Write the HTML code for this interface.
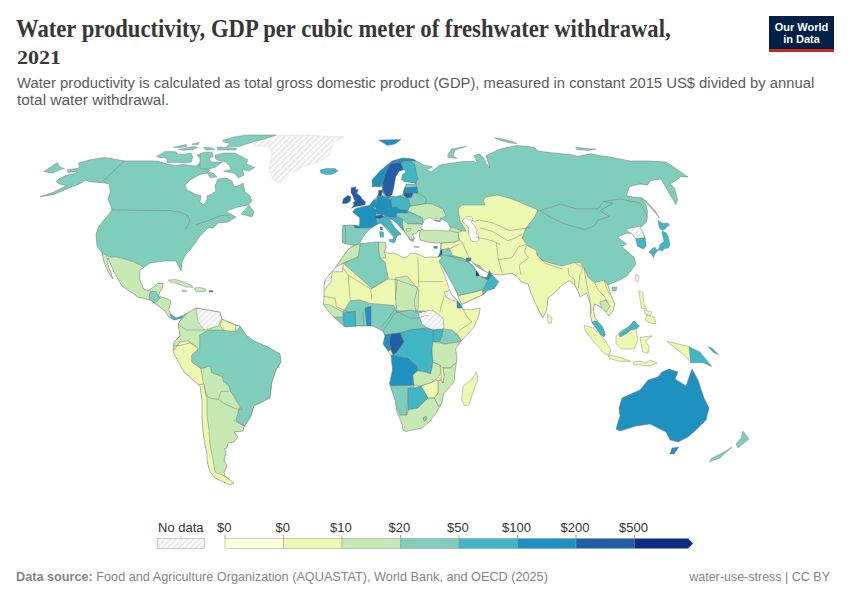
<!DOCTYPE html>
<html><head><meta charset="utf-8">
<style>
html,body{margin:0;padding:0;background:#fff;}
body{width:850px;height:600px;position:relative;overflow:hidden;font-family:"Liberation Sans",sans-serif;}
.t{position:absolute;white-space:nowrap;}
#title{left:16px;top:15px;font-family:"Liberation Serif",serif;font-weight:bold;font-size:24.5px;color:#373737;line-height:28px;}
#sub{left:17px;top:75px;font-size:14px;color:#5b5b5b;line-height:17px;}
#sub2{left:17px;top:92px;font-size:14px;color:#5b5b5b;line-height:17px;}
#title2{left:17px;top:46px;transform:scaleX(1.22);transform-origin:0 0;font-family:"Liberation Serif",serif;font-weight:bold;font-size:18px;color:#373737;line-height:24px;}
#logo{position:absolute;left:769px;top:16px;width:65px;height:33px;background:#002147;border-bottom:3px solid #ce261e;}
#logo div{position:absolute;left:0;width:65px;text-align:center;color:#fff;font-weight:bold;font-size:11px;line-height:12px;}
.lab{position:absolute;font-size:13px;color:#333;white-space:nowrap;}
#foot{left:16px;top:569.5px;font-size:12.5px;color:#858585;transform:scaleX(1.014);transform-origin:0 0;}
#foot2{right:20px;top:569.5px;font-size:12.5px;color:#858585;}
</style></head><body>
<svg width="850" height="600" viewBox="0 0 850 600" style="position:absolute;left:0;top:0">
<defs><pattern id="hatch" patternUnits="userSpaceOnUse" width="4" height="4" patternTransform="rotate(45)"><rect width="4" height="4" fill="#fff"/><line x1="2" y1="0" x2="2" y2="4" stroke="#e2e2e2" stroke-width="1.5"/></pattern>
<clipPath id="cl_am"><polygon points="40.3,196.8 52.6,192.6 66.8,185.6 58.5,183.8 56.2,181.5 58.5,179.1 65.6,175.6 76.2,173.2 76.8,171.5 68,172.6 67.4,169.7 77.4,168.5 79.7,166.8 78.5,163.2 90.3,159.7 104.4,157.4 124.4,160.9 150,160.9 158.2,161.3 166.5,163.8 174.7,165.4 183,164.6 191.2,165.4 196.1,166.2 199.4,163 204.4,160.5 207.7,157.2 209.3,161.3 211.8,165.4 206,168 210,170 207,173 200,174.5 190,180 185,185 187,190 195,194 201,196 200,202 203,205 207,200 207,196 210,195 216,191 215,186 218,179 226,178 232,181 234,187 240,185 243,183 245,192 250,196 252,201 248,205 238,207 226,211 230,214 236,217 228,222 218,223 213,228 208,228 200,236 196,242 190,250 186,254 182,262 181,271 178,265 176,261 164,261 150,263 140,270 139.7,279.4 143.5,288.8 148.2,290.7 153.8,287 157.6,283.6 163.2,283.2 162.3,287.9 159.5,292.6 158.5,296.4 163.2,297.3 169.8,300.1 170.8,301 168.9,310.5 170.8,314.2 176,318 182,316 196,308 208,310 220,312 222,319 236,325 240,326 246,335 254,341 268,347 280,354 281,362 276,370 272,382 270,398 266,400 254,406 251,416 244,427 243,431 234,432 238,437 234,442 228,443 227,448 224,449 226,452 224,460 227,466 224,472 225,476 234,483 230,485 215,478 210,472 207,461 207,454 204,440 203,430 202,415 202,400 200,386 184,372 173,352 174,342 180,336 178,324 182,318 174,320 168,316 164,310 150,300 138,297 122,286 114,272 108,258 107,262 110,270 113,279 108,272 104,262 102,253 97,246 96,234 99,226 110,213 112,209 108,199 110.3,192 109,183.8 101.5,182.6 91.5,182 85.6,180.3 78.5,184.4 70.3,187.4 53.8,194.4"/></clipPath>
<clipPath id="cl_eu"><polygon points="355,245 351.3,245.2 342.8,243 342,237.5 342.8,225.5 352,225 359.8,226 359.8,217.7 352.7,212 355,209 360.5,207 369.5,205.5 374,199.5 378.5,195 378.5,190.5 383,190 381.5,195 386,196.5 395,196.5 404,195 402.6,194.7 403.8,190 406.2,184.1 415.6,184.1 415.6,183 405,181.8 401.5,179.4 402.6,174.7 406.2,171.2 403.8,169.4 399.1,171.2 395.6,177 394.4,184.1 393.2,190 392,194.7 387.4,197 383.8,194.7 382.6,188.8 381.5,186.5 374.4,186.5 372.5,187 372,180 380,171 392,161 402.5,158 413,159 423.5,165 432.5,167 426.5,169.5 431,172 440,165.1 451.3,163.2 464.5,161.4 473.9,161.4 477.6,163.2 473.9,155.7 479.5,153.8 483.3,157.6 486.1,163.2 489.9,168 486.1,155.7 491.8,152.9 500.2,149.1 517.2,145.4 534.1,147.2 537.9,151 552.9,152.9 571.8,154.8 577.4,156.6 590.6,153.8 600,155.7 610,157 630,161 648,161 666,162 678,170 688,177 680.5,176.7 676,180.5 670,184 674.5,188 677.5,200 676,204.5 667,189.5 661,179 650.5,180.5 647.5,185 640,184 629.5,186.5 626.5,195.5 632.5,197 641.5,197.7 646,204.5 647.5,212 646,222.5 640.4,227.8 645,237 646,246.2 643.2,249 637.7,246.2 635.8,238.8 631.3,233.3 626.7,233.3 617.5,237 626.7,244.3 621.2,246.2 634,257.2 636,264 633,268 626.7,276 620,280 613,282.7 608,285.3 610.7,294.7 614.7,304 613,310.7 609,316 606.7,313 602.7,309 600,306.7 594.7,304 593.3,308 594.7,317.3 598.7,322.7 602.7,326.7 605.3,334.7 604,336.7 600.7,334.7 596,328 592,322.7 590.7,316 590.7,305.3 586.7,293 580,297 578.7,293 574.7,285 569.3,280.7 562.7,284.7 556,291.3 548,298 546.7,310 542.7,318 540,312.7 534.7,302 530.7,292.7 528,284 521.3,282 517.3,276.7 512,273.3 500,275 490.7,273.7 484,271 477.3,267 470.7,260.3 468,261.7 473.3,265.7 477.3,272.3 480,276.3 486.7,277.7 489.3,271 492,275 498.7,281.7 494.7,288.3 486.7,291 482.7,295 473.3,299 462.7,304.3 461.3,304.3 457.3,293.7 452,283 446.7,273.7 441.3,264.3 437.3,257.7 440,253.2 440.9,244.8 440,242.9 435.2,242.9 427.7,242 420.2,240 419.2,235.4 420.2,230.6 418.3,230.6 416.4,233.5 412.6,234.4 414.5,239 412.6,242 410,240 406,233.5 401.4,228.8 398.5,225 393,220 389.4,218.4 394.8,227.8 401.4,234.4 397.6,235.4 395.7,239 394.8,242.4 392.9,236.3 384.4,226.9 381,223 378,224 375.3,225.5 368.2,230.4 362.6,237.5 359.8,243"/></clipPath>
<clipPath id="cl_af"><polygon points="352.7,246 359.8,243.8 372.5,242.4 375,242 380.6,242 385.4,242.4 386.3,247.6 384.4,251.4 388.2,253.2 393.8,253.2 398.5,255.1 403.2,257.5 407,257 410.8,253.2 415.5,253.2 420.2,255.1 424.9,257.5 431.5,257 439,257 441,256 442,258 439,261 446.3,280 449.8,290.5 452.2,295.2 456.8,299.8 461.5,305.7 462.7,309.2 470.8,309.8 480.2,308 479,315 474.3,326.7 467.3,334.8 461.5,340.7 455.7,348.8 457,358 455.5,368.5 454,382 443.5,394 442,403 436,413 430,421 422,428 415,429.5 406,431.5 403,430 402,424 397,412 395,400 394,397 389.5,383.5 392.5,370 391,355 383,344 385,336 383,331 373,326 357,326 345,327 335,318 329,312 323,304 324,300 324,286 325,280 335,268 341.4,258.6 348.5,248.8"/></clipPath>
<clipPath id="cl_au"><polygon points="669,369 678,372 675,379 686,386 692,369 698,380 704,398 709,408 706,420 698,428 688,437 678,442 670,440 666,432 660,429 650,424 636,426 620,431 616,429 620,416 619,408 622,398 640,390 648,380 658,377 662,372"/></clipPath>
<clipPath id="cl_gl"><polygon points="254,143 273.5,136 299,135 344,137 333.5,141.5 329,155 320,161 302,167 290,174.5 281,183 273.5,180.5 269,170 272,153.5 267.5,146 254,146"/></clipPath>
</defs>
<polygon points="40.3,196.8 52.6,192.6 66.8,185.6 58.5,183.8 56.2,181.5 58.5,179.1 65.6,175.6 76.2,173.2 76.8,171.5 68,172.6 67.4,169.7 77.4,168.5 79.7,166.8 78.5,163.2 90.3,159.7 104.4,157.4 124.4,160.9 150,160.9 158.2,161.3 166.5,163.8 174.7,165.4 183,164.6 191.2,165.4 196.1,166.2 199.4,163 204.4,160.5 207.7,157.2 209.3,161.3 211.8,165.4 206,168 210,170 207,173 200,174.5 190,180 185,185 187,190 195,194 201,196 200,202 203,205 207,200 207,196 210,195 216,191 215,186 218,179 226,178 232,181 234,187 240,185 243,183 245,192 250,196 252,201 248,205 238,207 226,211 230,214 236,217 228,222 218,223 213,228 208,228 200,236 196,242 190,250 186,254 182,262 181,271 178,265 176,261 164,261 150,263 140,270 139.7,279.4 143.5,288.8 148.2,290.7 153.8,287 157.6,283.6 163.2,283.2 162.3,287.9 159.5,292.6 158.5,296.4 163.2,297.3 169.8,300.1 170.8,301 168.9,310.5 170.8,314.2 176,318 182,316 196,308 208,310 220,312 222,319 236,325 240,326 246,335 254,341 268,347 280,354 281,362 276,370 272,382 270,398 266,400 254,406 251,416 244,427 243,431 234,432 238,437 234,442 228,443 227,448 224,449 226,452 224,460 227,466 224,472 225,476 234,483 230,485 215,478 210,472 207,461 207,454 204,440 203,430 202,415 202,400 200,386 184,372 173,352 174,342 180,336 178,324 182,318 174,320 168,316 164,310 150,300 138,297 122,286 114,272 108,258 107,262 110,270 113,279 108,272 104,262 102,253 97,246 96,234 99,226 110,213 112,209 108,199 110.3,192 109,183.8 101.5,182.6 91.5,182 85.6,180.3 78.5,184.4 70.3,187.4 53.8,194.4" fill="#7fcdbb" stroke="none" stroke-width="0" />
<g clip-path="url(#cl_am)">
<polygon points="102,253 110,257 118,257 134,262 142,266 150,272 160,278 172,298 174,314 176,318 170,325 150,310 120,290 95,265" fill="#c7e9b4" stroke="#777" stroke-width="0.45" />
<polygon points="150,291.6 156,291.6 158.5,296.4 160.4,298 155,303 149,299" fill="#7fcdbb" stroke="#777" stroke-width="0.45" />
<polygon points="170,314 182,314 184,320 172,320" fill="#41b6c4" stroke="#777" stroke-width="0.45" />
<polygon points="170,330 196,305 300,340 300,500 190,500 170,400" fill="#c7e9b4" stroke="#777" stroke-width="0.45" />
<polygon points="196,308 208,310 220,312 222,319 218,326 205,330 198,322" fill="url(#hatch)" stroke="#777" stroke-width="0.45" />
<polygon points="222,319 236,325 236,332 226,332 220,326" fill="#edf8b1" stroke="#777" stroke-width="0.45" />
<polygon points="236,325 240,326 242,332 236,332" fill="url(#hatch)" stroke="#777" stroke-width="0.45" />
<polygon points="240,326 260,330 290,350 281,362 276,370 272,382 270,398 266,400 254,406 251,416 245.6,426.7 236,420.4 239.2,407.7 242.3,410 237,402 234.3,396.7 230.3,391.3 229,386 223.7,382 222.3,376.7 211.7,372.7 210.3,366 201,368.7 191.7,362 191.7,355.3 199.7,348.7 199.7,335.3 208,330 222,330 236,332" fill="#7fcdbb" stroke="#777" stroke-width="0.45" />
<polygon points="165,352 174.3,350 179.7,342 187.7,340.7 198.3,348.7 191.7,355.3 191.7,362 201,368.7 203.7,386 201,387.3 185,375.3" fill="#edf8b1" stroke="#777" stroke-width="0.45" />
<polygon points="190,386 204,384 207,400 207,415 209,430 210,445 213,460 215,472 224,476 240,483 230,490 200,470 195,400" fill="#edf8b1" stroke="#777" stroke-width="0.45" />
</g>
<polygon points="40.3,196.8 52.6,192.6 66.8,185.6 58.5,183.8 56.2,181.5 58.5,179.1 65.6,175.6 76.2,173.2 76.8,171.5 68,172.6 67.4,169.7 77.4,168.5 79.7,166.8 78.5,163.2 90.3,159.7 104.4,157.4 124.4,160.9 150,160.9 158.2,161.3 166.5,163.8 174.7,165.4 183,164.6 191.2,165.4 196.1,166.2 199.4,163 204.4,160.5 207.7,157.2 209.3,161.3 211.8,165.4 206,168 210,170 207,173 200,174.5 190,180 185,185 187,190 195,194 201,196 200,202 203,205 207,200 207,196 210,195 216,191 215,186 218,179 226,178 232,181 234,187 240,185 243,183 245,192 250,196 252,201 248,205 238,207 226,211 230,214 236,217 228,222 218,223 213,228 208,228 200,236 196,242 190,250 186,254 182,262 181,271 178,265 176,261 164,261 150,263 140,270 139.7,279.4 143.5,288.8 148.2,290.7 153.8,287 157.6,283.6 163.2,283.2 162.3,287.9 159.5,292.6 158.5,296.4 163.2,297.3 169.8,300.1 170.8,301 168.9,310.5 170.8,314.2 176,318 182,316 196,308 208,310 220,312 222,319 236,325 240,326 246,335 254,341 268,347 280,354 281,362 276,370 272,382 270,398 266,400 254,406 251,416 244,427 243,431 234,432 238,437 234,442 228,443 227,448 224,449 226,452 224,460 227,466 224,472 225,476 234,483 230,485 215,478 210,472 207,461 207,454 204,440 203,430 202,415 202,400 200,386 184,372 173,352 174,342 180,336 178,324 182,318 174,320 168,316 164,310 150,300 138,297 122,286 114,272 108,258 107,262 110,270 113,279 108,272 104,262 102,253 97,246 96,234 99,226 110,213 112,209 108,199 110.3,192 109,183.8 101.5,182.6 91.5,182 85.6,180.3 78.5,184.4 70.3,187.4 53.8,194.4" fill="none" stroke="#777" stroke-width="0.5" />
<polygon points="355,245 351.3,245.2 342.8,243 342,237.5 342.8,225.5 352,225 359.8,226 359.8,217.7 352.7,212 355,209 360.5,207 369.5,205.5 374,199.5 378.5,195 378.5,190.5 383,190 381.5,195 386,196.5 395,196.5 404,195 402.6,194.7 403.8,190 406.2,184.1 415.6,184.1 415.6,183 405,181.8 401.5,179.4 402.6,174.7 406.2,171.2 403.8,169.4 399.1,171.2 395.6,177 394.4,184.1 393.2,190 392,194.7 387.4,197 383.8,194.7 382.6,188.8 381.5,186.5 374.4,186.5 372.5,187 372,180 380,171 392,161 402.5,158 413,159 423.5,165 432.5,167 426.5,169.5 431,172 440,165.1 451.3,163.2 464.5,161.4 473.9,161.4 477.6,163.2 473.9,155.7 479.5,153.8 483.3,157.6 486.1,163.2 489.9,168 486.1,155.7 491.8,152.9 500.2,149.1 517.2,145.4 534.1,147.2 537.9,151 552.9,152.9 571.8,154.8 577.4,156.6 590.6,153.8 600,155.7 610,157 630,161 648,161 666,162 678,170 688,177 680.5,176.7 676,180.5 670,184 674.5,188 677.5,200 676,204.5 667,189.5 661,179 650.5,180.5 647.5,185 640,184 629.5,186.5 626.5,195.5 632.5,197 641.5,197.7 646,204.5 647.5,212 646,222.5 640.4,227.8 645,237 646,246.2 643.2,249 637.7,246.2 635.8,238.8 631.3,233.3 626.7,233.3 617.5,237 626.7,244.3 621.2,246.2 634,257.2 636,264 633,268 626.7,276 620,280 613,282.7 608,285.3 610.7,294.7 614.7,304 613,310.7 609,316 606.7,313 602.7,309 600,306.7 594.7,304 593.3,308 594.7,317.3 598.7,322.7 602.7,326.7 605.3,334.7 604,336.7 600.7,334.7 596,328 592,322.7 590.7,316 590.7,305.3 586.7,293 580,297 578.7,293 574.7,285 569.3,280.7 562.7,284.7 556,291.3 548,298 546.7,310 542.7,318 540,312.7 534.7,302 530.7,292.7 528,284 521.3,282 517.3,276.7 512,273.3 500,275 490.7,273.7 484,271 477.3,267 470.7,260.3 468,261.7 473.3,265.7 477.3,272.3 480,276.3 486.7,277.7 489.3,271 492,275 498.7,281.7 494.7,288.3 486.7,291 482.7,295 473.3,299 462.7,304.3 461.3,304.3 457.3,293.7 452,283 446.7,273.7 441.3,264.3 437.3,257.7 440,253.2 440.9,244.8 440,242.9 435.2,242.9 427.7,242 420.2,240 419.2,235.4 420.2,230.6 418.3,230.6 416.4,233.5 412.6,234.4 414.5,239 412.6,242 410,240 406,233.5 401.4,228.8 398.5,225 393,220 389.4,218.4 394.8,227.8 401.4,234.4 397.6,235.4 395.7,239 394.8,242.4 392.9,236.3 384.4,226.9 381,223 378,224 375.3,225.5 368.2,230.4 362.6,237.5 359.8,243" fill="#7fcdbb" stroke="none" stroke-width="0" />
<g clip-path="url(#cl_eu)">
<polygon points="466,231 460,221 458,209 462,205 471,205 485,205 483,200 486,197 498,195 512,199 524,204 538,210 534,218 526,228 522,238 528,246 536,250 537,255 542.7,260.7 561.3,266 572,263.3 580,262 584,268 588,277 594.7,282.7 604,280 608,285.3 625,300 625,345 530,345 500,290 480,266 470,262 462,258 448,254 445,250 441,249 441,244 443,243 455,242 459,240 458,232 449,230" fill="#edf8b1" stroke="#777" stroke-width="0.45" />
<polygon points="455,296 460,295 473.3,292.3 482.7,289.7 486,293 482.7,295 473.3,299 462.7,304.3" fill="#edf8b1" stroke="#777" stroke-width="0.45" />
<polygon points="488,280.3 492,275 498.7,281.7 494.7,288.3 486.7,291 482.7,295 482.7,289.7" fill="#41b6c4" stroke="#777" stroke-width="0.45" />
<polygon points="480,276.3 486.7,277.7 489.3,271 492,275 488,280.3 482,279" fill="#1d91c0" stroke="#777" stroke-width="0.45" />
<polygon points="418,229 425,230 435,229.5 450,229 458,232 459,240 455,242 442,243 435,244 428,243 418,241" fill="#c7e9b4" stroke="#777" stroke-width="0.45" />
<polygon points="447,226 455,228 462,231 458,232.5 449,230.5" fill="#c7e9b4" stroke="#777" stroke-width="0.45" />
<polygon points="441,250 449,248 452,254 447,258 442,258" fill="#7fcdbb" stroke="#777" stroke-width="0.45" />
<polygon points="439,250 442,250 442,259 439,259" fill="#225ea8" stroke="#777" stroke-width="0.45" />
<polygon points="365,180 380,171 392,161 402.5,158 413,157 416,161 404,161 401,162.7 390.5,163.5 384.5,175.5 383,183 378.5,190 368,190" fill="#1d91c0" stroke="#777" stroke-width="0.45" />
<polygon points="384.5,175.5 390.5,163.5 401,162.7 404,169.5 400,172 397,178 396,186 394,196 387.5,198 382,190 383,183" fill="#225ea8" stroke="#777" stroke-width="0.45" />
<polygon points="403,169 401,162.7 408.5,161 414.5,163.5 417,175.5 418,178.5 415.6,183 405,183 400,180 401,172" fill="#41b6c4" stroke="#777" stroke-width="0.45" />
<polygon points="404,184 416,183 417,187 405,188" fill="#7fcdbb" stroke="#777" stroke-width="0.45" />
<polygon points="400,188 417,187 418,193 400,193" fill="#1d91c0" stroke="#777" stroke-width="0.45" />
<polygon points="403.3,193 413.3,193 411.7,197.2 406.7,198 404.2,195.5" fill="#225ea8" stroke="#777" stroke-width="0.45" />
<polygon points="411.7,197.2 413.3,193 420,194 426,198 425.8,203.8 418,205 410,206.3 408.3,198.8" fill="#7fcdbb" stroke="#777" stroke-width="0.45" />
<polygon points="410,206.3 418,205 425.8,203.8 432,204 443,209 446,216 438,220 430,222 422,222 422.5,218 412,213 407.5,210.5" fill="#c7e9b4" stroke="#777" stroke-width="0.45" />
<polygon points="390.8,198 400,196.3 408.3,198.8 410,206.3 407.5,210.5 399.2,209.7 391.7,207.2" fill="#41b6c4" stroke="#777" stroke-width="0.45" />
<polygon points="376.7,200.5 378,194 382,196 387.5,198 390.8,199.7 391.7,207.2 387.5,208 390.8,212.2 388.3,213.8 383.3,214.7 376.7,213.8 375.8,207.2" fill="#1d91c0" stroke="#777" stroke-width="0.45" />
<polygon points="376,190 382.5,189.7 384,193 380.8,196.3 377,196" fill="#225ea8" stroke="#777" stroke-width="0.45" />
<polygon points="366,198 376.7,200.5 375.8,207.2 370,208.8 366,205" fill="#1d91c0" stroke="#777" stroke-width="0.45" />
<polygon points="345,208 360,208 369.2,204.7 376.7,210.5 375.8,215.5 376.7,221.3 377.5,223.8 378,226 368.3,228 355,228" fill="#1d91c0" stroke="#777" stroke-width="0.45" />
<polygon points="375,216.3 381.7,214.7 384.2,217.2 379.2,218.8 375.8,218" fill="#225ea8" stroke="#777" stroke-width="0.45" />
<polygon points="387.5,207.2 396.7,207.2 399.2,209.7 407.5,210.5 407.5,213 398.3,213 398.3,217.2 385,217 384.2,214.5 388.3,213.8 390.8,212.2" fill="#1d91c0" stroke="#777" stroke-width="0.45" />
<polygon points="396.7,213 407.5,213 412,213 422.5,218 423,222 421,223.8 408,224 401.7,218.8 396.7,217.2" fill="#7fcdbb" stroke="#777" stroke-width="0.45" />
<polygon points="389,218 398.3,217.2 401.7,218.8 403,222 402.5,226.3 404,230 395,222" fill="#41b6c4" stroke="#777" stroke-width="0.45" />
<polygon points="402.5,219 408,224 421,223.8 423,226 421,231 416,234 416,238 410.6,240 405,232 402.5,226.3" fill="#c7e9b4" stroke="#777" stroke-width="0.45" />
<polygon points="406.7,228.5 411,228.5 410.5,231 406.7,231" fill="#edf8b1" stroke="#777" stroke-width="0.45" />
<polygon points="376.7,221.3 380.8,218 387.5,216.3 390.8,217.2 389.2,220.5 391.7,223.8 396.7,230.5 401.7,234.7 399.2,236.3 397.5,238 396,242 394,236 388,228 382,224 378,224" fill="#41b6c4" stroke="#777" stroke-width="0.45" />
<polygon points="330,220 345,225 346,238 344,250 330,250" fill="#7fcdbb" stroke="#777" stroke-width="0.45" />
<polygon points="600,302 606,300 610,306 606,312 602,310" fill="#c7e9b4" stroke="#777" stroke-width="0.45" />
<polygon points="594,321 600,322 604,330 606,338 600,337 595,330 590,324" fill="#41b6c4" stroke="#777" stroke-width="0.45" />
<polygon points="634,239.5 645.5,237.5 648,250 636,250" fill="#41b6c4" stroke="#777" stroke-width="0.45" />
<polygon points="626,229 641,226 645,237.5 635,239" fill="url(#hatch)" stroke="#777" stroke-width="0.45" />
<polygon points="436,258 441.3,255 450.7,256.3 460,260.3 468,261.7 480,276 488,280.3 482.7,289.7 473.3,292.3 460,295 455,300 440,275" fill="#7fcdbb" stroke="#777" stroke-width="0.45" />
<polygon points="476,271 479,271 479,276 476,276" fill="#0c2c84" stroke="#777" stroke-width="0.45" />
<polygon points="466,258 471,258 471,262 467,262" fill="#1d91c0" stroke="#777" stroke-width="0.45" />
</g>
<polygon points="355,245 351.3,245.2 342.8,243 342,237.5 342.8,225.5 352,225 359.8,226 359.8,217.7 352.7,212 355,209 360.5,207 369.5,205.5 374,199.5 378.5,195 378.5,190.5 383,190 381.5,195 386,196.5 395,196.5 404,195 402.6,194.7 403.8,190 406.2,184.1 415.6,184.1 415.6,183 405,181.8 401.5,179.4 402.6,174.7 406.2,171.2 403.8,169.4 399.1,171.2 395.6,177 394.4,184.1 393.2,190 392,194.7 387.4,197 383.8,194.7 382.6,188.8 381.5,186.5 374.4,186.5 372.5,187 372,180 380,171 392,161 402.5,158 413,159 423.5,165 432.5,167 426.5,169.5 431,172 440,165.1 451.3,163.2 464.5,161.4 473.9,161.4 477.6,163.2 473.9,155.7 479.5,153.8 483.3,157.6 486.1,163.2 489.9,168 486.1,155.7 491.8,152.9 500.2,149.1 517.2,145.4 534.1,147.2 537.9,151 552.9,152.9 571.8,154.8 577.4,156.6 590.6,153.8 600,155.7 610,157 630,161 648,161 666,162 678,170 688,177 680.5,176.7 676,180.5 670,184 674.5,188 677.5,200 676,204.5 667,189.5 661,179 650.5,180.5 647.5,185 640,184 629.5,186.5 626.5,195.5 632.5,197 641.5,197.7 646,204.5 647.5,212 646,222.5 640.4,227.8 645,237 646,246.2 643.2,249 637.7,246.2 635.8,238.8 631.3,233.3 626.7,233.3 617.5,237 626.7,244.3 621.2,246.2 634,257.2 636,264 633,268 626.7,276 620,280 613,282.7 608,285.3 610.7,294.7 614.7,304 613,310.7 609,316 606.7,313 602.7,309 600,306.7 594.7,304 593.3,308 594.7,317.3 598.7,322.7 602.7,326.7 605.3,334.7 604,336.7 600.7,334.7 596,328 592,322.7 590.7,316 590.7,305.3 586.7,293 580,297 578.7,293 574.7,285 569.3,280.7 562.7,284.7 556,291.3 548,298 546.7,310 542.7,318 540,312.7 534.7,302 530.7,292.7 528,284 521.3,282 517.3,276.7 512,273.3 500,275 490.7,273.7 484,271 477.3,267 470.7,260.3 468,261.7 473.3,265.7 477.3,272.3 480,276.3 486.7,277.7 489.3,271 492,275 498.7,281.7 494.7,288.3 486.7,291 482.7,295 473.3,299 462.7,304.3 461.3,304.3 457.3,293.7 452,283 446.7,273.7 441.3,264.3 437.3,257.7 440,253.2 440.9,244.8 440,242.9 435.2,242.9 427.7,242 420.2,240 419.2,235.4 420.2,230.6 418.3,230.6 416.4,233.5 412.6,234.4 414.5,239 412.6,242 410,240 406,233.5 401.4,228.8 398.5,225 393,220 389.4,218.4 394.8,227.8 401.4,234.4 397.6,235.4 395.7,239 394.8,242.4 392.9,236.3 384.4,226.9 381,223 378,224 375.3,225.5 368.2,230.4 362.6,237.5 359.8,243" fill="none" stroke="#777" stroke-width="0.5" />
<polygon points="352.7,246 359.8,243.8 372.5,242.4 375,242 380.6,242 385.4,242.4 386.3,247.6 384.4,251.4 388.2,253.2 393.8,253.2 398.5,255.1 403.2,257.5 407,257 410.8,253.2 415.5,253.2 420.2,255.1 424.9,257.5 431.5,257 439,257 441,256 442,258 439,261 446.3,280 449.8,290.5 452.2,295.2 456.8,299.8 461.5,305.7 462.7,309.2 470.8,309.8 480.2,308 479,315 474.3,326.7 467.3,334.8 461.5,340.7 455.7,348.8 457,358 455.5,368.5 454,382 443.5,394 442,403 436,413 430,421 422,428 415,429.5 406,431.5 403,430 402,424 397,412 395,400 394,397 389.5,383.5 392.5,370 391,355 383,344 385,336 383,331 373,326 357,326 345,327 335,318 329,312 323,304 324,300 324,286 325,280 335,268 341.4,258.6 348.5,248.8" fill="#edf8b1" stroke="none" stroke-width="0" />
<g clip-path="url(#cl_af)">
<polygon points="330,270 341.4,258.6 348.5,248.8 360,243 360,246.7 358.3,256.7 343.3,263.3" fill="#c7e9b4" stroke="#777" stroke-width="0.45" />
<polygon points="315,292 324,283.3 330,270 343.3,263.3 342.5,271.7 332,271.7 331,282 323,292" fill="url(#hatch)" stroke="#777" stroke-width="0.45" />
<polygon points="360,241 378.8,241 378.8,250 380,258 385,262 388.3,278.3 371.7,288.3 343.3,263.3 358.3,256.7 360,246.7" fill="#7fcdbb" stroke="#777" stroke-width="0.45" />
<polygon points="378.8,241 385.4,241 386.3,247.6 384.4,251.4 386,258 380,258 378.8,250" fill="#c7e9b4" stroke="#777" stroke-width="0.45" />
<polygon points="395,278 407,276 419,290 418,310 410,318 398,318 396,305" fill="#c7e9b4" stroke="#777" stroke-width="0.45" />
<polygon points="343,312 350.5,300.6 360,300 370.2,303.4 394,305.5 396,311 425.3,311 430,318 427,328 410,330 400,336 385,340 383,331 373,326 357,326 345,327 336,320" fill="#7fcdbb" stroke="#777" stroke-width="0.45" />
<polygon points="315,303 330,305 343,312 343,320 336,318 328,317 318,310" fill="#c7e9b4" stroke="#777" stroke-width="0.45" />
<polygon points="334,317 343,317 344.5,330 336,330" fill="#7fcdbb" stroke="#777" stroke-width="0.45" />
<polygon points="343,313 355,311 356,330 345,330" fill="#41b6c4" stroke="#777" stroke-width="0.45" />
<polygon points="365,308 371,306 371,328 367,328" fill="#1d91c0" stroke="#777" stroke-width="0.45" />
<polygon points="383,331 395,313 410,310 420,312 428,315 428,328 410,330 400,333 391,334 385,336" fill="#7fcdbb" stroke="#777" stroke-width="0.45" />
<polygon points="418,313 432,310 443,318 444,329 430,330 422,324" fill="url(#hatch)" stroke="#777" stroke-width="0.45" />
<polygon points="444,292 449.8,290.5 452.2,295.2 456.8,299.8 458,302 452,300 446,297" fill="url(#hatch)" stroke="#777" stroke-width="0.45" />
<polygon points="457,301 462,303 462,308 457,308" fill="#1d91c0" stroke="#777" stroke-width="0.45" />
<polygon points="443,329 452,330 458,335 462,342 458,342 445,344 439,342 442,336" fill="#7fcdbb" stroke="#777" stroke-width="0.45" />
<polygon points="433,330 443,329 442,336 439,342 433,342" fill="#41b6c4" stroke="#777" stroke-width="0.45" />
<polygon points="400,333 410,330 428,328 433,330 433,342 432,350 433,362 432,368 430.5,374 425,372 417.6,371 417,366 413,363 408,358 400,357 393,355 397,352 404,342" fill="#41b6c4" stroke="#777" stroke-width="0.45" />
<polygon points="391,334 400,333 404,342 397,352 393,355 391,350 389,342" fill="#225ea8" stroke="#777" stroke-width="0.45" />
<polygon points="375,336 391,334 389,342 391,350 385,352 378,345" fill="#1d91c0" stroke="#777" stroke-width="0.45" />
<polygon points="380,355 393,355 400,357 408,358 413,363 417,366 417.6,371 413,375 414,385 409.4,385.5 385,386" fill="#1d91c0" stroke="#777" stroke-width="0.45" />
<polygon points="413,375 417.6,371 425,372 430.5,374 432,368 433,362 440,365 441,372 438,378 430,383 421,386 414,385" fill="#c7e9b4" stroke="#777" stroke-width="0.45" />
<polygon points="433,342 445,344 458,342 462,358 450,368 443,368 440,365 433,362 432,350" fill="#c7e9b4" stroke="#777" stroke-width="0.45" />
<polygon points="443,368 450,368 462,358 462,385 443.5,394 442,403 436,409 434,398 438,393 437.8,380 441,380 443,383 444,376" fill="#c7e9b4" stroke="#777" stroke-width="0.45" />
<polygon points="440,365 443,368 444,376 443,383 441,380 441,372" fill="#edf8b1" stroke="#777" stroke-width="0.45" />
<polygon points="421,386 430,383 437.8,380 438,393 434,398 428,398" fill="#edf8b1" stroke="#777" stroke-width="0.45" />
<polygon points="385,386 409.4,385.5 414,385 414,388 408,392 407,415 400,415 390,397" fill="#7fcdbb" stroke="#777" stroke-width="0.45" />
<polygon points="408,388 414,388 421,386 428,398 418,408 408,410" fill="#41b6c4" stroke="#777" stroke-width="0.45" />
<polygon points="395,415 407,415 408,410 418,408 428,398 434,398 440,409 433,421 430,421 422,430 415,433 406,433 400,430" fill="#c7e9b4" stroke="#777" stroke-width="0.45" />
<polygon points="423,418 426,416 427,419 424,421" fill="#7fcdbb" stroke="#777" stroke-width="0.45" />
</g>
<polygon points="352.7,246 359.8,243.8 372.5,242.4 375,242 380.6,242 385.4,242.4 386.3,247.6 384.4,251.4 388.2,253.2 393.8,253.2 398.5,255.1 403.2,257.5 407,257 410.8,253.2 415.5,253.2 420.2,255.1 424.9,257.5 431.5,257 439,257 441,256 442,258 439,261 446.3,280 449.8,290.5 452.2,295.2 456.8,299.8 461.5,305.7 462.7,309.2 470.8,309.8 480.2,308 479,315 474.3,326.7 467.3,334.8 461.5,340.7 455.7,348.8 457,358 455.5,368.5 454,382 443.5,394 442,403 436,413 430,421 422,428 415,429.5 406,431.5 403,430 402,424 397,412 395,400 394,397 389.5,383.5 392.5,370 391,355 383,344 385,336 383,331 373,326 357,326 345,327 335,318 329,312 323,304 324,300 324,286 325,280 335,268 341.4,258.6 348.5,248.8" fill="none" stroke="#777" stroke-width="0.5" />
<polygon points="669,369 678,372 675,379 686,386 692,369 698,380 704,398 709,408 706,420 698,428 688,437 678,442 670,440 666,432 660,429 650,424 636,426 620,431 616,429 620,416 619,408 622,398 640,390 648,380 658,377 662,372" fill="#1d91c0" stroke="none" stroke-width="0" />
<polygon points="669,369 678,372 675,379 686,386 692,369 698,380 704,398 709,408 706,420 698,428 688,437 678,442 670,440 666,432 660,429 650,424 636,426 620,431 616,429 620,416 619,408 622,398 640,390 648,380 658,377 662,372" fill="none" stroke="#777" stroke-width="0.5" />
<polygon points="254,143 273.5,136 299,135 344,137 333.5,141.5 329,155 320,161 302,167 290,174.5 281,183 273.5,180.5 269,170 272,153.5 267.5,146 254,146" fill="url(#hatch)" stroke="none" stroke-width="0" />
<polygon points="254,143 273.5,136 299,135 344,137 333.5,141.5 329,155 320,161 302,167 290,174.5 281,183 273.5,180.5 269,170 272,153.5 267.5,146 254,146" fill="none" stroke="#d4d4d4" stroke-width="0.5" />
<polygon points="421,227 425,219 430,217.5 435,221 440,222 442,219 447,222 449,225 451,229 448,231 435,230 425,230.5 421,229" fill="#fff" stroke="#777" stroke-width="0.45" />
<polygon points="435,218.5 441,218 440,220 436,220" fill="#fff" stroke="#777" stroke-width="0.45" />
<polygon points="462,221 467,216.5 472,217 473,220 471,222 475,226 477,230 476,233 478,234 479,240 477,242 471,241 470,237 468,233 469,230 468,227 465,224" fill="#fff" stroke="#777" stroke-width="0.45" />
<polyline points="323.6,296 335,298.5 336.4,307 350.5,312.6" fill="none" stroke="#777" stroke-width="0.45"/>
<polyline points="397,305.5 388.6,318.2 381.5,326.7" fill="none" stroke="#777" stroke-width="0.45"/>
<polyline points="355.4,311 355.4,327" fill="none" stroke="#777" stroke-width="0.45"/>
<polyline points="363,312 363.5,326" fill="none" stroke="#777" stroke-width="0.45"/>
<polyline points="395.6,311 410,318 418,318 428,315" fill="none" stroke="#777" stroke-width="0.45"/>
<polyline points="603.7,201.3 620,199 640,203 648,217 646,222.5" fill="none" stroke="#777" stroke-width="0.45"/>
<polyline points="203.7,386 207,396 209,398 218.3,399.3 221,391.3 229,391.3" fill="none" stroke="#777" stroke-width="0.45"/>
<polyline points="218.3,399.3 225,404 234,408 240,410" fill="none" stroke="#777" stroke-width="0.45"/>
<polyline points="233,420 245.6,426.7" fill="none" stroke="#777" stroke-width="0.45"/>
<polyline points="174,346 182,345 190,343 196,346" fill="none" stroke="#777" stroke-width="0.45"/>
<polyline points="178,324 186,330 196,330 205,330" fill="none" stroke="#777" stroke-width="0.45"/>
<polyline points="112,210 169,210.6 180,212 188,216 190,221 186,229" fill="none" stroke="#777" stroke-width="0.45"/>
<polyline points="195,225 207,221 217,217 222,215.5 228,215.5 230,219" fill="none" stroke="#777" stroke-width="0.45"/>
<polyline points="124.4,160.9 101.5,182.6" fill="none" stroke="#777" stroke-width="0.45"/>
<polyline points="539.7,210.7 560.4,204.1 575.5,208.8 598.1,208.8 603.7,201.3 613,203.2 600,210.7 609.4,216.4 598.1,220.1 594.3,225.8 584.9,229.5 564.2,223.9 549.1,216.4 539.7,210.7" fill="none" stroke="#777" stroke-width="0.45"/>
<polyline points="473.8,221.1 479.5,220.1 492.6,222.9 509.6,230.5 530.3,227.6" fill="none" stroke="#777" stroke-width="0.45"/>
<polyline points="479.5,227.6 492.6,231.4 507.7,240.8" fill="none" stroke="#777" stroke-width="0.45"/>
<polyline points="475.7,237 492.6,240.8 500.2,244.6" fill="none" stroke="#777" stroke-width="0.45"/>
<polyline points="496.4,242.7 498.3,259.6 511.5,257.8 519,246.5 526.5,244.6" fill="none" stroke="#777" stroke-width="0.45"/>
<polyline points="507.7,240.8 515,238 522.8,234" fill="none" stroke="#777" stroke-width="0.45"/>
<polyline points="498.3,259.6 502.1,272.8" fill="none" stroke="#777" stroke-width="0.45"/>
<polyline points="526.5,244.6 524.6,252 528.4,257.8 519,265.3 520.9,274.7" fill="none" stroke="#777" stroke-width="0.45"/>
<polyline points="459,240 462.5,242.7 468.2,255.9 470,261.5" fill="none" stroke="#777" stroke-width="0.45"/>
<polyline points="541.6,259.6 545.4,263.4 562.3,269" fill="none" stroke="#777" stroke-width="0.45"/>
<polyline points="568,268 569,275 575,280 574.7,285" fill="none" stroke="#777" stroke-width="0.45"/>
<polyline points="575.5,263.4 583,267.2 580,275 578,290" fill="none" stroke="#777" stroke-width="0.45"/>
<polyline points="342.6,267.6 348.2,275.1 350.1,299.6" fill="none" stroke="#777" stroke-width="0.45"/>
<polyline points="348.2,275.1 370.8,289.2 388.7,278.9" fill="none" stroke="#777" stroke-width="0.45"/>
<polyline points="370.8,289.2 371.8,299.6" fill="none" stroke="#777" stroke-width="0.45"/>
<polyline points="388.7,278.9 397.2,279.8 395.3,299.6" fill="none" stroke="#777" stroke-width="0.45"/>
<polyline points="397.2,279.8 417.9,287.4" fill="none" stroke="#777" stroke-width="0.45"/>
<polyline points="417.9,257.2 418.8,287.4" fill="none" stroke="#777" stroke-width="0.45"/>
<polyline points="418.8,281.7 443.3,281.7" fill="none" stroke="#777" stroke-width="0.45"/>
<polyline points="417.9,287.4 414.1,301.5 416,312.8" fill="none" stroke="#777" stroke-width="0.45"/>
<polyline points="444.2,295.8 440.5,309 440,312" fill="none" stroke="#777" stroke-width="0.45"/>
<polyline points="462.7,309.2 468,318 472,322 460,330 455,336" fill="none" stroke="#777" stroke-width="0.45"/>
<polyline points="448,256 462,258 470,262" fill="none" stroke="#777" stroke-width="0.45"/>
<polyline points="447,250 459,244" fill="none" stroke="#777" stroke-width="0.45"/>
<polyline points="466.3,218.2 473.8,221.1" fill="none" stroke="#777" stroke-width="0.45"/>
<polyline points="584,268 586,280 588,290 590,300 591,313" fill="none" stroke="#777" stroke-width="0.45"/>
<polyline points="594.7,282.7 598,290 604,296 608,303" fill="none" stroke="#777" stroke-width="0.45"/>
<polyline points="604,280 606,287 610,295" fill="none" stroke="#777" stroke-width="0.45"/>
<polygon points="43.8,171.5 57.4,162.6 59.7,166.8 64.4,168.5 58.5,170.3 52.6,173.2" fill="#7fcdbb" stroke="#777" stroke-width="0.4" />
<polygon points="156.6,156.4 164.8,151.4 176.4,151.8 178,154.7 185.4,153.9 191.2,153 192.8,157.2 191.2,162.1 184.6,163 177.2,162.5 167.3,162.5 166.5,158 159.9,157.6" fill="#7fcdbb" stroke="#777" stroke-width="0.4" />
<polygon points="173,147.3 186.2,144.4 187,146.5 178.8,147.7" fill="#7fcdbb" stroke="#777" stroke-width="0.4" />
<polygon points="178.8,149.4 192.8,146.5 197.8,147.3 192.8,149.8 183,150.2" fill="#7fcdbb" stroke="#777" stroke-width="0.4" />
<polygon points="192,144 199.4,142.4 198,144.5 193,145" fill="#7fcdbb" stroke="#777" stroke-width="0.4" />
<polygon points="203.5,147.3 211.8,147.8 215,149.6 206,150" fill="#7fcdbb" stroke="#777" stroke-width="0.4" />
<polygon points="197,154.7 206,154 206,157.2 199,157.5" fill="#7fcdbb" stroke="#777" stroke-width="0.4" />
<polygon points="222.6,140.2 233.9,136.9 247,135 276.2,135 265.9,138.4 252.7,142.1 239.5,146.4 226.4,146.4 230.1,143.5 223.5,142.1" fill="#7fcdbb" stroke="#777" stroke-width="0.4" />
<polygon points="217,146.8 236.7,148.2 235.8,150.1 217.9,150.1" fill="#7fcdbb" stroke="#777" stroke-width="0.4" />
<polygon points="215,155.3 223.5,153 234.8,153 239.5,155.3 248,160 246,163.8 254.6,167.5 249,171.3 242.4,169.4 244.2,175 238.6,177.9 233.9,173.2 223.5,171.3 231,169.4 229.2,165.6 225.4,161.9 217,160 215,158.1" fill="#7fcdbb" stroke="#777" stroke-width="0.4" />
<polygon points="200,153.4 205.6,152 212,152 213.2,156.2 209.4,159 211.3,161.9 222.6,161.9 215,167.5 207.5,169.4 200,168.5" fill="#7fcdbb" stroke="#777" stroke-width="0.4" />
<polygon points="206.6,172 213,173 217,177 210,177.5" fill="#7fcdbb" stroke="#777" stroke-width="0.4" />
<polygon points="241,214 249,205 254,212 252,217 248,216" fill="#7fcdbb" stroke="#777" stroke-width="0.4" />
<polygon points="168,280 176,279.5 184,282 192,285.5 193,287.5 186,287 178,284 170,282" fill="#c7e9b4" stroke="#777" stroke-width="0.4" />
<polygon points="194,288 200,287.5 206,289 205,291.5 196,291.5" fill="#c7e9b4" stroke="#777" stroke-width="0.4" />
<polygon points="182,290 186,290 187,291.5 182,291.5" fill="#c7e9b4" stroke="#777" stroke-width="0.4" />
<polygon points="209,290.5 213,290.5 213,292 209,292" fill="#1d91c0" stroke="#777" stroke-width="0.4" />
<polygon points="320,170 326,168.5 335,168.5 338,171 332,174.5 326,174.5 321,173" fill="#41b6c4" stroke="#777" stroke-width="0.4" />
<polygon points="351.3,187.5 356.1,186.9 355.6,189.6 358.3,189.6 356.7,193.3 360.4,196 362.5,199.2 365.7,201.9 364.7,205 359.3,206.1 355.1,206.7 351.3,208.3 354,204.5 352.9,202.9 355.1,201.3 353.5,197.6 352.4,194.9 350.8,192.3" fill="#225ea8" stroke="#777" stroke-width="0.4" />
<polygon points="343.3,198.7 347.6,195.5 350.8,196.5 350.3,201.3 346.5,203.5 342.3,203.5" fill="#225ea8" stroke="#777" stroke-width="0.4" />
<polygon points="378.5,140 401,139.5 395,144 387.5,145.5" fill="#1d91c0" stroke="#777" stroke-width="0.4" />
<polygon points="447.5,155.7 451.3,149.1 466.4,146.3 455,150 453.2,155.7 457,158.5 448.5,157.6" fill="#7fcdbb" stroke="#777" stroke-width="0.4" />
<polygon points="575.5,147.2 586.8,148.5 596.2,149.1 588,150.5 577,149.5" fill="#7fcdbb" stroke="#777" stroke-width="0.4" />
<polygon points="494.6,137.8 504,139.2 511.5,141 517.2,143.5 510,143 502,141" fill="#7fcdbb" stroke="#777" stroke-width="0.4" />
<polygon points="476.5,372 478,379 473.5,391 469,404.5 464.5,406 461.5,400 463,386.5 472,379" fill="#edf8b1" stroke="#777" stroke-width="0.4" />
<polygon points="672,448 679,447 674,454 670,454" fill="#1d91c0" stroke="#777" stroke-width="0.4" />
<polygon points="743,431 749,439 738,448 736,444 741,438" fill="#7fcdbb" stroke="#777" stroke-width="0.4" />
<polygon points="732,447 720,458 709,462 712,458 724,452" fill="#7fcdbb" stroke="#777" stroke-width="0.4" />
<polygon points="584,325.3 593.3,328 604,338.7 610.7,349.3 609.3,356 604,353.3 593.3,341.3 585.3,330.7" fill="#edf8b1" stroke="#777" stroke-width="0.4" />
<polygon points="608,354.7 620,357.3 630.7,361.3 620,361.3 609.3,358.7" fill="#edf8b1" stroke="#777" stroke-width="0.4" />
<polygon points="633,362 640,361 645,363 650,360 657,363 650,366 640,365 634,365" fill="#edf8b1" stroke="#777" stroke-width="0.4" />
<polygon points="616,336 622,330 628,328 634,321 639,326 636,330 638,340 634,349 622,349 616,344" fill="#edf8b1" stroke="#777" stroke-width="0.4" />
<polygon points="618.7,334 624,330 628,327 634,321 639.5,326 636,329 631,330 626,334 620,337" fill="#41b6c4" stroke="#777" stroke-width="0.4" />
<polygon points="640,337.3 652,336 645.3,341.3 649.3,346.7 648,353.3 642.7,352 641.3,345.3" fill="#edf8b1" stroke="#777" stroke-width="0.4" />
<polygon points="666.7,341.3 678.7,344 689.3,346.7 690.7,362.7 684,354.7 673.3,346.7" fill="#edf8b1" stroke="#777" stroke-width="0.4" />
<polygon points="689.3,346.7 700,352 712,366.7 702.7,362.7 690.7,362.7" fill="#41b6c4" stroke="#777" stroke-width="0.4" />
<polygon points="708,346.7 712,348 718.7,354.7 714,353" fill="#41b6c4" stroke="#777" stroke-width="0.4" />
<polygon points="638.7,290.7 642.7,292 644,304 646.7,309.3 641.3,308 640,298.7" fill="#edf8b1" stroke="#777" stroke-width="0.4" />
<polygon points="644,310 652,312 650,316 645,314" fill="#edf8b1" stroke="#777" stroke-width="0.4" />
<polygon points="646.7,314.7 654.7,317.3 656,324 649.3,322.7 645.3,320" fill="#edf8b1" stroke="#777" stroke-width="0.4" />
<polygon points="636,274 639,276 638,282 635,280" fill="url(#hatch)" stroke="#777" stroke-width="0.4" />
<polygon points="658,220.3 662.5,223.3 668.5,223.3 669.3,225.5 666.3,227 665.5,228.9 662.5,230 659.5,228.5 658.8,225.5" fill="#41b6c4" stroke="#777" stroke-width="0.4" />
<polygon points="662.5,230.8 666.3,233 668.5,237.5 670,245 668.5,248 664,248.8 662.5,251 659.5,250.3 656.5,249.5 655,247.3 652.8,248 649.8,251 649,252.5 652,254 653.5,257.8 655,254 658,250.3 660.3,244.3 664,241.3 663.3,237.5 661.8,233" fill="#41b6c4" stroke="#777" stroke-width="0.4" />
<polygon points="379.7,231.6 383.5,232 383.5,237.2 380,237" fill="#41b6c4" stroke="#777" stroke-width="0.4" />
<polygon points="380.2,226.9 382.5,227 382.5,230.2 380.5,230" fill="#1d91c0" stroke="#777" stroke-width="0.4" />
<polygon points="389,239.5 395.7,239 394,242.9 389.5,241.5" fill="#41b6c4" stroke="#777" stroke-width="0.4" />
<polygon points="433.4,246.6 437.6,246.2 437,248.5 434,248.3" fill="#1d91c0" stroke="#777" stroke-width="0.4" />
<polygon points="413.6,246.4 419.2,246.6 419,247.6 414,247.4" fill="#c7e9b4" stroke="#777" stroke-width="0.4" />
<polygon points="547.3,314 552,318 551.3,323.3 548,322.7" fill="#edf8b1" stroke="#777" stroke-width="0.4" />
<polygon points="641.5,197.7 646,201 655,210.5 659.5,218 652,209" fill="#7fcdbb" stroke="#777" stroke-width="0.4" />
<polygon points="612,287 617,287 616,291 612,291" fill="#7fcdbb" stroke="#777" stroke-width="0.4" />
</svg>
<div class="t" id="title" style="transform:scaleX(0.925);transform-origin:0 0">Water productivity, GDP per cubic meter of freshwater withdrawal,</div>
<div class="t" id="title2">2021</div>
<div class="t" id="sub" style="transform:scaleX(1.057);transform-origin:0 0">Water productivity is calculated as total gross domestic product (GDP), measured in constant 2015 US$ divided by annual</div>
<div class="t" id="sub2" style="transform:scaleX(1.098);transform-origin:0 0">total water withdrawal.</div>
<div id="logo"><div style="top:5px">Our World</div><div style="top:17px">in Data</div></div>
<div class="t" id="foot"><b>Data source:</b> Food and Agriculture Organization (AQUASTAT), World Bank, and OECD (2025)</div>
<div class="t" id="foot2">water-use-stress | CC BY</div>
<svg width="850" height="600" style="position:absolute;left:0;top:0">
 <defs><pattern id="hatch2" patternUnits="userSpaceOnUse" width="4" height="4" patternTransform="rotate(45)"><rect width="4" height="4" fill="#fff"/><line x1="2" y1="0" x2="2" y2="4" stroke="#e2e2e2" stroke-width="1.5"/></pattern></defs>
 <rect x="157.5" y="538.5" width="47" height="10" fill="url(#hatch2)" stroke="#aaa" stroke-width="0.6"/>
 <line x1="181" y1="535.5" x2="181" y2="538.5" stroke="#aaa" stroke-width="0.8"/>
 <g stroke="#999" stroke-width="0.5">
  <rect x="225" y="538.5" width="58.5" height="10" fill="#ffffd9"/>
  <rect x="283.5" y="538.5" width="58.5" height="10" fill="#edf8b1"/>
  <rect x="342" y="538.5" width="58.5" height="10" fill="#c7e9b4"/>
  <rect x="400.5" y="538.5" width="58.5" height="10" fill="#7fcdbb"/>
  <rect x="459" y="538.5" width="58.5" height="10" fill="#41b6c4"/>
  <rect x="517.5" y="538.5" width="58.5" height="10" fill="#1d91c0"/>
  <rect x="576" y="538.5" width="58.5" height="10" fill="#225ea8"/>
 </g>
 <polygon points="634.5,538.5 688,538.5 693,543.5 688,548.5 634.5,548.5" fill="#0c2c84"/>
 <g stroke="#999" stroke-width="0.8">
  <line x1="225" y1="535" x2="225" y2="538.5"/><line x1="283.5" y1="535" x2="283.5" y2="538.5"/><line x1="342" y1="535" x2="342" y2="538.5"/><line x1="400.5" y1="535" x2="400.5" y2="538.5"/><line x1="459" y1="535" x2="459" y2="538.5"/><line x1="517.5" y1="535" x2="517.5" y2="538.5"/><line x1="576" y1="535" x2="576" y2="538.5"/><line x1="634.5" y1="535" x2="634.5" y2="538.5"/>
 </g>
</svg>
<div class="lab" style="left:158px;top:520px">No data</div>
<div class="lab" style="left:217px;top:520px">$0</div>
<div class="lab" style="left:275.5px;top:520px">$0</div>
<div class="lab" style="left:330px;top:520px">$10</div>
<div class="lab" style="left:388.5px;top:520px">$20</div>
<div class="lab" style="left:447px;top:520px">$50</div>
<div class="lab" style="left:502px;top:520px">$100</div>
<div class="lab" style="left:560.5px;top:520px">$200</div>
<div class="lab" style="left:619px;top:520px">$500</div>
</body></html>
